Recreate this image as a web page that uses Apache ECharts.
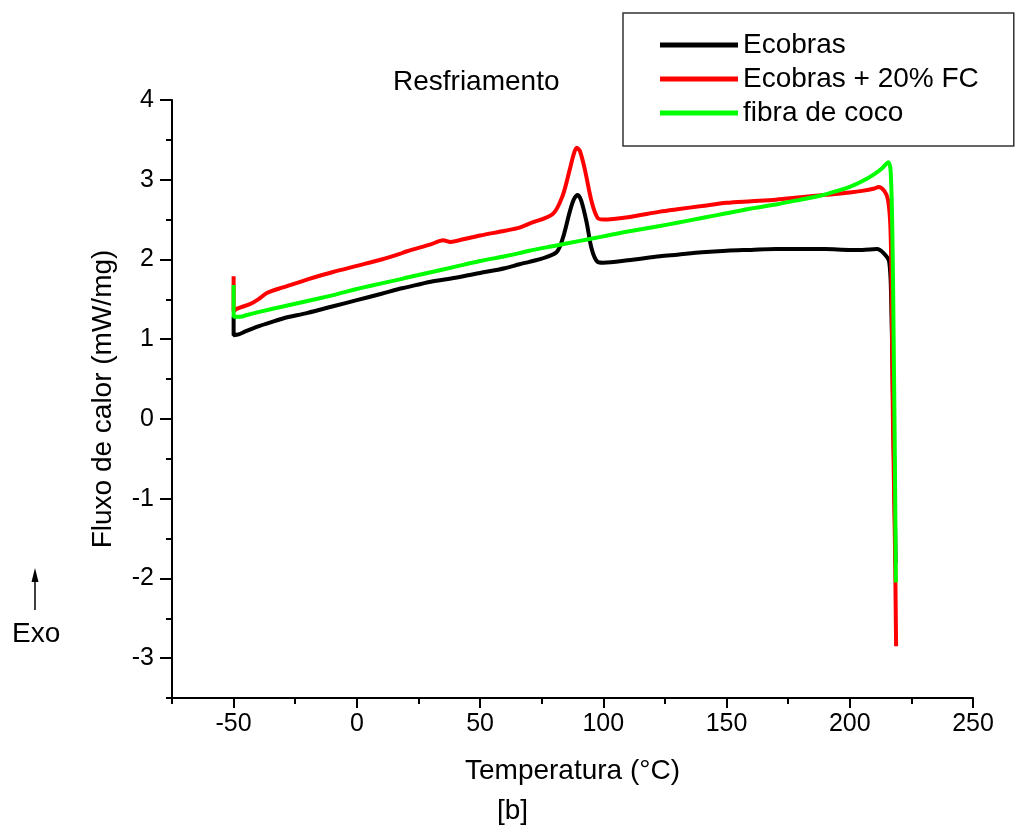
<!DOCTYPE html>
<html lang="pt">
<head>
	<meta charset="UTF-8">
	<title>Resfriamento</title>
	<script src="https://cdn.jsdelivr.net/npm/echarts@6/dist/echarts.min.js"></script>
	<style>
		html,body{margin:0;padding:0;background:#fff;}
		#chart{width:1016px;height:831px;}
	</style>
</head>
<body>
	<div id="chart"></div>
	<script type="text/javascript">
		// curvas DSC (temperatura em °C, fluxo em mW/mg)
		var ecobrasX = [-50, -50, -48, -45, -40, -35, -30, -20, -10, 0, 10, 17, 20, 30, 40, 50, 60, 66, 70, 75, 81, 83.5, 86.4, 88, 89.6, 91, 93.2, 95.3, 97.7, 100, 110, 123, 130, 140, 150, 160, 170, 180, 190, 200, 205, 211, 214, 216, 216.8, 217.5, 218.2, 218.6];
		var ecobrasY = [1.28, 1.05, 1.06, 1.1, 1.16, 1.21, 1.26, 1.33, 1.41, 1.49, 1.57, 1.63, 1.65, 1.72, 1.77, 1.83, 1.89, 1.94, 1.97, 2.01, 2.09, 2.26, 2.6, 2.75, 2.81, 2.74, 2.47, 2.13, 1.97, 1.96, 1.99, 2.04, 2.06, 2.09, 2.11, 2.12, 2.13, 2.13, 2.13, 2.12, 2.12, 2.13, 2.07, 1.97, 1.5, 0.3, -1, -1.8];

		var compositoX = [-50, -50, -48.8, -43.4, -40, -36.5, -30, -23, -20, -10, 0, 10, 17.4, 20, 30, 35, 38, 40, 50, 60, 66, 70, 79.5, 83.5, 86.4, 88, 89.2, 90.5, 92.5, 95.3, 97.7, 100, 110, 123, 130, 140, 150, 160, 170, 180, 190, 200, 205, 210, 211.7, 214, 215.5, 216.5, 217, 217.5, 218.3, 218.8];
		var compositoY = [1.79, 1.35, 1.38, 1.44, 1.5, 1.58, 1.65, 1.72, 1.75, 1.84, 1.92, 2.0, 2.07, 2.1, 2.19, 2.24, 2.22, 2.23, 2.3, 2.36, 2.4, 2.45, 2.57, 2.8, 3.13, 3.32, 3.4, 3.36, 3.13, 2.72, 2.52, 2.5, 2.53, 2.6, 2.63, 2.67, 2.71, 2.73, 2.75, 2.78, 2.81, 2.84, 2.86, 2.89, 2.91, 2.86, 2.75, 2.4, 1.5, 0, -1.5, -2.85];

		var fibraX = [-50, -50, -47, -45, -40, -30, -20, -10, 0, 10, 17.4, 20, 30, 40, 50, 60, 66, 70, 80, 90, 100, 110, 123, 130, 140, 150, 160, 170, 180, 188, 195, 200, 205, 210, 213, 215.7, 216.6, 217.3, 217.8, 218.3, 218.7];
		var fibraY = [1.68, 1.28, 1.28, 1.3, 1.34, 1.41, 1.48, 1.55, 1.63, 1.7, 1.75, 1.77, 1.84, 1.91, 1.98, 2.04, 2.08, 2.11, 2.17, 2.23, 2.29, 2.35, 2.42, 2.46, 2.52, 2.58, 2.64, 2.69, 2.75, 2.8, 2.86, 2.91, 2.98, 3.07, 3.14, 3.22, 3.1, 2.3, 1.0, -0.5, -2.05];

		var seriesNames = ['Ecobras', 'Ecobras + 20% FC', 'fibra de coco'];
		var seriesColors = ['#000000', '#ff0000', '#00ff00'];

		var xMajorTicks = [-50, 0, 50, 100, 150, 200, 250];
		var yMajorTicks = [-3, -2, -1, 0, 1, 2, 3, 4];

		function pares(xs, ys){
			var out = [];
			for (var i = 0; i < xs.length; i++) out.push([xs[i], ys[i]]);
			return out;
		}

		var fonte = 'Liberation Sans, Arial, sans-serif';
		var myChart = echarts.init(document.getElementById('chart'));

		var option = {
			animation: false,
			backgroundColor: '#fff',
			textStyle: { fontFamily: fonte, color: '#000' },
			title: {
				text: 'Resfriamento',
				left: 388, top: 63,
				textStyle: { fontFamily: fonte, fontSize: 28, fontWeight: 'normal', color: '#000' }
			},
			legend: {
				data: seriesNames,
				orient: 'vertical',
				left: 623, top: 13,
				icon: 'rect',
				itemWidth: 78, itemHeight: 5,
				itemGap: 4,
				padding: [17, 35, 18, 37],
				borderColor: '#333', borderWidth: 1.5,
				textStyle: { fontFamily: fonte, fontSize: 28, color: '#000', lineHeight: 30 }
			},
			grid: { left: 172, right: 43, top: 100, bottom: 133 },
			xAxis: [{
				type: 'value', min: -75, max: 250, interval: 25,
				name: 'Temperatura (°C)', nameLocation: 'middle', nameGap: 59,
				nameTextStyle: { fontFamily: fonte, fontSize: 28, color: '#000' },
				axisLine: { onZero: false, lineStyle: { color: '#000', width: 2 } },
				axisTick: { inside: false, length: 6, lineStyle: { color: '#000', width: 2 } },
				axisLabel: {
					margin: 14, fontFamily: fonte, fontSize: 25, color: '#000',
					formatter: function(v){ return v % 50 === 0 ? v : ''; }
				},
				splitLine: { show: false }
			}, {
				type: 'value', min: -75, max: 250, position: 'bottom',
				axisLine: { show: false, onZero: false },
				axisTick: { length: 10, customValues: xMajorTicks, lineStyle: { color: '#000', width: 2 } },
				axisLabel: { show: false },
				splitLine: { show: false }
			}],
			yAxis: [{
				type: 'value', min: -3.5, max: 4, interval: 0.5,
				name: 'Fluxo de calor (mW/mg)', nameLocation: 'middle', nameGap: 55,
				nameTextStyle: { fontFamily: fonte, fontSize: 28, color: '#000' },
				axisLine: { show: true, onZero: false, lineStyle: { color: '#000', width: 2 } },
				axisTick: { show: true, length: 6, lineStyle: { color: '#000', width: 2 } },
				axisLabel: {
					margin: 18, fontFamily: fonte, fontSize: 25, color: '#000',
					formatter: function(v){ return v % 1 === 0 ? v : ''; }
				},
				splitLine: { show: false }
			}, {
				type: 'value', min: -3.5, max: 4, position: 'left', offset: 0,
				axisLine: { show: false, onZero: false },
				axisTick: { show: true, length: 12, customValues: yMajorTicks, lineStyle: { color: '#000', width: 2 } },
				axisLabel: { show: false },
				splitLine: { show: false }
			}],
			series: [
				{ name: seriesNames[0], type: 'line', data: pares(ecobrasX, ecobrasY), showSymbol: false, smooth: 0.3,
				  lineStyle: { color: seriesColors[0], width: 4 }, itemStyle: { color: seriesColors[0] } },
				{ name: seriesNames[1], type: 'line', data: pares(compositoX, compositoY), showSymbol: false, smooth: 0.3,
				  lineStyle: { color: seriesColors[1], width: 4 }, itemStyle: { color: seriesColors[1] } },
				{ name: seriesNames[2], type: 'line', data: pares(fibraX, fibraY), showSymbol: false, smooth: 0.3,
				  lineStyle: { color: seriesColors[2], width: 4 }, itemStyle: { color: seriesColors[2] } }
			],
			graphic: [
				{ type: 'line', shape: { x1: 35, y1: 610, x2: 35, y2: 580 }, style: { stroke: '#000', lineWidth: 1.5 } },
				{ type: 'polygon', shape: { points: [[35, 568], [31.5, 582], [38.5, 582]] }, style: { fill: '#000' } },
				{ type: 'text', left: 12, top: 620, style: { text: 'Exo', font: '28px ' + fonte, fill: '#000' } },
				{ type: 'text', left: 497, top: 797, style: { text: '[b]', font: '28px ' + fonte, fill: '#000' } }
			]
		};
		myChart.setOption(option);
	</script>
</body>
</html>
